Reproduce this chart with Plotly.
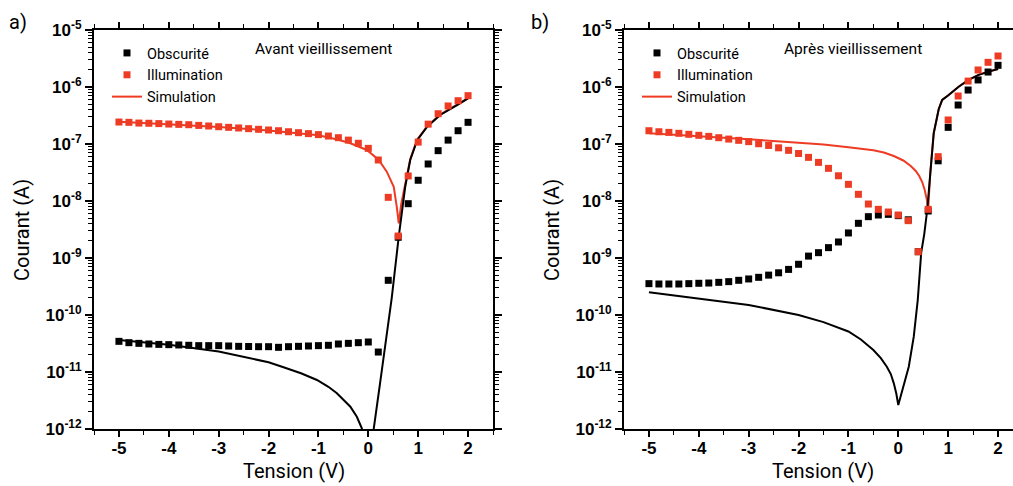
import plotly.graph_objects as go

# ---------------- data ----------------
V = [-5.0, -4.8, -4.6, -4.4, -4.2, -4.0, -3.8, -3.6, -3.4, -3.2, -3.0, -2.8, -2.6, -2.4,
     -2.2, -2.0, -1.8, -1.6, -1.4, -1.2, -1.0, -0.8, -0.6, -0.4, -0.2, 0.0, 0.2, 0.4,
     0.6, 0.8, 1.0, 1.2, 1.4, 1.6, 1.8, 2.0]

# (a) Avant vieillissement
dark_a = [3.45e-11, 3.27e-11, 3.18e-11, 3.10e-11, 3.05e-11, 3.02e-11, 2.98e-11, 2.94e-11,
          2.90e-11, 2.90e-11, 2.90e-11, 2.86e-11, 2.82e-11, 2.80e-11, 2.78e-11, 2.78e-11,
          2.71e-11, 2.78e-11, 2.82e-11, 2.86e-11, 2.90e-11, 2.94e-11, 3.10e-11, 3.18e-11,
          3.27e-11, 3.36e-11, 2.24e-11, 4.06e-10, 2.31e-9, 8.97e-9, 2.31e-8, 4.46e-8,
          7.64e-8, 1.17e-7, 1.71e-7, 2.40e-7]
illum_a = [2.43e-7, 2.40e-7, 2.33e-7, 2.31e-7, 2.28e-7, 2.24e-7, 2.21e-7, 2.18e-7, 2.12e-7,
           2.07e-7, 2.01e-7, 1.96e-7, 1.91e-7, 1.86e-7, 1.81e-7, 1.76e-7, 1.71e-7, 1.64e-7,
           1.58e-7, 1.52e-7, 1.46e-7, 1.38e-7, 1.29e-7, 1.17e-7, 1.03e-7, 8.39e-8, 5.24e-8,
           1.16e-8, 2.43e-9, 2.75e-8, 1.08e-7, 2.23e-7, 3.40e-7, 4.65e-7, 5.75e-7, 7.05e-7]

sim_ill_a_V = [-5.0, -4.0, -3.0, -2.0, -1.5, -1.0, -0.6, -0.36, -0.03, 0.21, 0.37, 0.51,
               0.57, 0.61, 0.66, 0.74, 0.84, 0.98, 1.18, 1.44, 1.78, 2.0]
sim_ill_a = [2.45e-7, 2.22e-7, 1.99e-7, 1.73e-7, 1.58e-7, 1.43e-7, 1.19e-7, 1.03e-7, 7.85e-8,
             5.24e-8, 3.27e-8, 1.78e-8, 7.96e-9, 4.06e-9, 8.9e-9, 1.86e-8, 5.37e-8, 1.20e-7,
             2.04e-7, 3.27e-7, 4.90e-7, 6.40e-7]

sim_dark_a_V = [-5.0, -4.0, -3.0, -2.37, -2.0, -1.70, -1.35, -1.03, -0.8, -0.63, -0.5, -0.36,
                -0.23, -0.13, -0.08, None, 0.06, 0.10, 0.24, 0.37, 0.47, 0.61, 0.74, 0.84,
                0.98, 1.18, 1.44, 1.78, 2.0]
sim_dark_a = [3.64e-11, 3.02e-11, 2.29e-11, 1.74e-11, 1.48e-11, 1.21e-11, 9.5e-12, 7.24e-12,
              5.5e-12, 4.23e-12, 3.3e-12, 2.46e-12, 1.64e-12, 1.03e-12, 5.0e-13, None,
              4.0e-13, 8.9e-13, 6.8e-12, 4.5e-11, 2.0e-10, 2.37e-9, 1.78e-8, 5.24e-8, 1.17e-7,
              2.01e-7, 3.23e-7, 4.83e-7, 6.32e-7]

# (b) Après vieillissement
dark_b = [3.55e-10, 3.50e-10, 3.50e-10, 3.50e-10, 3.55e-10, 3.60e-10, 3.64e-10, 3.74e-10,
          3.85e-10, 4.06e-10, 4.29e-10, 4.58e-10, 5.01e-10, 5.50e-10, 6.31e-10, 7.76e-10,
          1.08e-9, 1.24e-9, 1.52e-9, 1.91e-9, 2.75e-9, 4.06e-9, 5.31e-9, 5.68e-9, 5.83e-9,
          5.53e-9, 4.68e-9, 1.29e-9, 6.68e-9, 5.07e-8, 1.96e-7, 4.83e-7, 8.85e-7, 1.33e-6,
          1.83e-6, 2.40e-6]
illum_b = [1.71e-7, 1.64e-7, 1.60e-7, 1.54e-7, 1.48e-7, 1.42e-7, 1.36e-7, 1.29e-7, 1.22e-7,
           1.16e-7, 1.10e-7, 1.01e-7, 9.44e-8, 8.57e-8, 7.74e-8, 6.81e-8, 5.83e-8, 4.76e-8,
           3.74e-8, 2.77e-8, 1.96e-8, 1.31e-8, 8.85e-9, 7.14e-9, 6.41e-9, 5.68e-9, 4.52e-9,
           1.29e-9, 7.14e-9, 6.00e-8, 2.64e-7, 6.95e-7, 1.27e-6, 1.99e-6, 2.71e-6, 3.50e-6]

sim_ill_b_V = [-5.0, -4.0, -3.0, -2.0, -1.5, -1.0, -0.5, -0.29, -0.09, 0.10, 0.25, 0.35,
               0.42, 0.48, 0.53, 0.57, 0.60, 0.64, 0.71, 0.81, 0.88, 1.01, 1.21, 1.41, 1.61,
               1.81, 2.0]
sim_ill_b = [1.54e-7, 1.38e-7, 1.21e-7, 1.05e-7, 9.8e-8, 8.79e-8, 7.74e-8, 7.10e-8, 6.15e-8,
             5.14e-8, 4.11e-8, 3.36e-8, 2.75e-8, 2.15e-8, 1.56e-8, 1.08e-8, 7.24e-9, 3.05e-8,
             1.54e-7, 4.07e-7, 5.92e-7, 7.24e-7, 1.01e-6, 1.33e-6, 1.63e-6, 1.86e-6, 2.07e-6]

sim_dark_b_V = [-5.0, -4.0, -3.0, -2.0, -1.5, -1.0, -0.75, -0.5, -0.35, -0.23, -0.15, -0.09,
                -0.04, 0.0, 0.05, 0.11, 0.21, 0.31, 0.39, 0.46, 0.52, 0.58, 0.64, 0.71, 0.81,
                0.88, 1.01, 1.21, 1.41, 1.61, 1.81, 2.0]
sim_dark_b = [2.50e-10, 1.96e-10, 1.50e-10, 1.0e-10, 7.5e-11, 5.13e-11, 3.72e-11, 2.43e-11,
              1.75e-11, 1.24e-11, 9.2e-12, 6.32e-12, 4.2e-12, 2.63e-12, 3.9e-12, 6.32e-12,
              1.24e-11, 4.17e-11, 1.83e-10, 1.26e-9, 2.6e-9, 6.95e-9, 3.05e-8, 1.54e-7,
              4.07e-7, 5.92e-7, 7.24e-7, 1.01e-6, 1.33e-6, 1.63e-6, 1.86e-6, 2.07e-6]

x_ticks = [-5, -4, -3, -2, -1, 0, 1, 2]
x_ticktext = ["-5", "-4", "-3", "-2", "-1", "0", "1", "2"]
x_minor = [-5.5, -4.5, -3.5, -2.5, -1.5, -0.5, 0.5, 1.5, 2.5]
y_exps = [-12, -11, -10, -9, -8, -7, -6, -5]

RED = "#EE3B24"
BLACK = "#000000"

y_ticks = [10.0 ** e for e in y_exps]
y_ticktext = ["10<sup>%d</sup>" % e for e in y_exps]
y_minor = [k * 10.0 ** e for e in y_exps[:-1] for k in range(2, 10)]

fig = go.Figure()

for col, (xa, ya, leg) in enumerate([("x", "y", "legend"), ("x2", "y2", "legend2")]):
    if col == 0:
        d, il, sv, si, dv, ds = dark_a, illum_a, sim_ill_a_V, sim_ill_a, sim_dark_a_V, sim_dark_a
    else:
        d, il, sv, si, dv, ds = dark_b, illum_b, sim_ill_b_V, sim_ill_b, sim_dark_b_V, sim_dark_b
    fig.add_trace(go.Scatter(x=sv, y=si, mode="lines", line=dict(color=RED, width=2),
                             name="Simulation", legend=leg, legendrank=3, xaxis=xa, yaxis=ya))
    fig.add_trace(go.Scatter(x=dv, y=ds, mode="lines", line=dict(color=BLACK, width=2),
                             showlegend=False, connectgaps=False, xaxis=xa, yaxis=ya))
    fig.add_trace(go.Scatter(x=V, y=d, mode="markers",
                             marker=dict(symbol="square", size=7, color=BLACK),
                             name="Obscurité", legend=leg, legendrank=1, xaxis=xa, yaxis=ya))
    fig.add_trace(go.Scatter(x=V, y=il, mode="markers",
                             marker=dict(symbol="square", size=7, color=RED),
                             name="Illumination", legend=leg, legendrank=2, xaxis=xa, yaxis=ya))

tickfont = dict(family="Liberation Sans", size=17, color="black", weight="bold")

def xaxis(domain, rng):
    return dict(domain=domain, range=rng, tickmode="array", tickvals=x_ticks,
                ticktext=x_ticktext, ticks="outside", ticklen=6, tickwidth=1.5,
                tickcolor="black", showline=True, linewidth=2, linecolor="black",
                mirror="allticks", showgrid=False, zeroline=False, tickfont=tickfont,
                automargin=False, ticklabelstandoff=-3,
                minor=dict(tickmode="array", tickvals=x_minor, ticks="outside", ticklen=4,
                           tickwidth=1.2, tickcolor="black", showgrid=False))

def yaxis(anchor, mirror):
    return dict(anchor=anchor, type="log", range=[-12, -5], tickmode="array",
                tickvals=y_ticks, ticktext=y_ticktext, ticks="outside", ticklen=7,
                tickwidth=1.5, tickcolor="black", showline=True, linewidth=2,
                linecolor="black", mirror=mirror, showgrid=False, zeroline=False,
                tickfont=tickfont, automargin=False, domain=[0, 1],
                minor=dict(tickmode="array", tickvals=y_minor, ticks="outside", ticklen=4,
                           tickwidth=1.2, tickcolor="black", showgrid=False))

W, H = 1013, 486
TOP, BOT = 30, 429


def px(x):
    return x / W


def py(y):
    return (BOT - y) / (BOT - TOP)


leg_common = dict(xanchor="left", yanchor="top", bgcolor="rgba(0,0,0,0)",
                  font=dict(family="Roboto", size=14.5), itemwidth=30, tracegroupgap=0)

fig.update_layout(
    width=W, height=H, margin=dict(l=0, r=0, t=TOP, b=H - BOT),
    paper_bgcolor="white", plot_bgcolor="white",
    font=dict(family="Roboto", color="black"),
    xaxis=xaxis([94 / W, 493 / W], [-5.5, 2.5]),
    xaxis2=dict(xaxis([624 / W, 1.0], [-5.5, 2.3]), anchor="y2"),
    yaxis=yaxis("x", "allticks"),
    yaxis2=yaxis("x2", False),
    legend=dict(leg_common, x=px(107), y=py(37)),
    legend2=dict(leg_common, x=px(637), y=py(37)),
    showlegend=True,
)

ann = [
    ("a)", 18, 22, "center", 20),
    ("b)", 540, 22, "center", 20),
    ("Avant vieillissement", 253, 49, "left", 15.5),
    ("Après vieillissement", 782, 49, "left", 15.5),
    ("Tension (V)", 294, 471, "center", 20),
    ("Tension (V)", 823, 471, "center", 20),
]
for text, x, y, xan, size in ann:
    fig.add_annotation(text=text, x=px(x), y=py(y), xref="paper", yref="paper",
                       xanchor=xan, yanchor="middle", showarrow=False,
                       font=dict(family="Roboto", size=size, color="black"))
for xc in (22, 552):
    fig.add_annotation(text="Courant (A)", x=px(xc), y=py(230), xref="paper", yref="paper",
                       xanchor="center", yanchor="middle", textangle=-90, showarrow=False,
                       font=dict(family="Roboto", size=20, color="black"))

fig.write_html("out.html", config={"displayModeBar": False},
               post_script="document.body.style.margin='0';document.body.style.padding='0';"
                           "document.body.style.overflow='hidden';")
